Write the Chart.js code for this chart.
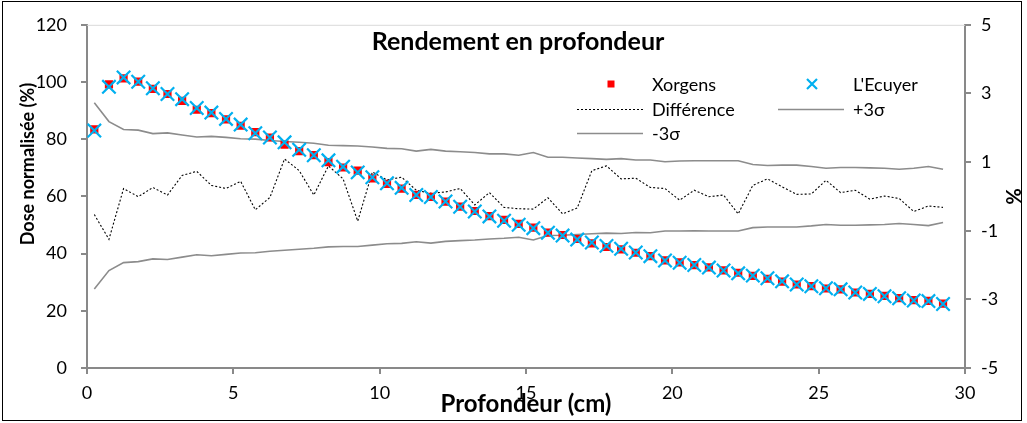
<!DOCTYPE html>
<html>
<head>
<meta charset="utf-8">
<title>Rendement en profondeur</title>
<script src="https://cdn.jsdelivr.net/npm/chart.js@4/dist/chart.umd.min.js"></script>
<style>
  html, body { margin: 0; padding: 0; background: #fff; }
</style>
</head>
<body>
<canvas id="doseChart" width="1027" height="423"></canvas>
<script>
// profondeur (cm)
const depth = [0.25, 0.75, 1.25, 1.75, 2.25, 2.75, 3.25, 3.75, 4.25, 4.75,
  5.25, 5.75, 6.25, 6.75, 7.25, 7.75, 8.25, 8.75, 9.25, 9.75,
  10.25, 10.75, 11.25, 11.75, 12.25, 12.75, 13.25, 13.75, 14.25, 14.75,
  15.25, 15.75, 16.25, 16.75, 17.25, 17.75, 18.25, 18.75, 19.25, 19.75,
  20.25, 20.75, 21.25, 21.75, 22.25, 22.75, 23.25, 23.75, 24.25, 24.75,
  25.25, 25.75, 26.25, 26.75, 27.25, 27.75, 28.25, 28.75, 29.25];

// dose normalisee (%)
const xorgens = [83.4, 99.2, 101.3, 100.1, 97.6, 95.8, 93.4, 90.3, 89.1, 86.9,
  84.7, 82.5, 80.6, 78.1, 75.8, 74.4, 72.0, 70.1, 69.0, 66.3,
  64.4, 62.7, 60.5, 59.8, 58.2, 56.4, 54.9, 53.1, 51.8, 50.4,
  49.1, 47.3, 46.5, 45.1, 43.6, 42.3, 41.5, 40.3, 39.1, 37.6,
  36.9, 36.0, 35.2, 34.1, 33.3, 32.2, 31.2, 30.2, 29.2, 28.6,
  27.8, 27.5, 26.4, 25.9, 25.2, 24.4, 23.7, 23.5, 22.5];
const lecuyer = [83.0, 98.3, 101.6, 100.1, 97.8, 95.8, 94.0, 90.9, 89.3, 87.1,
  85.1, 82.1, 80.6, 78.9, 76.3, 74.4, 72.6, 70.4, 68.4, 66.7,
  64.6, 63.0, 60.5, 59.8, 58.2, 56.4, 54.7, 53.0, 51.5, 50.1,
  48.9, 47.3, 46.3, 44.9, 43.9, 42.7, 41.7, 40.4, 39.1, 37.6,
  36.8, 36.0, 35.1, 34.1, 33.1, 32.3, 31.4, 30.3, 29.2, 28.6,
  27.9, 27.5, 26.4, 25.9, 25.1, 24.4, 23.6, 23.4, 22.4];

// axe secondaire (%)
const difference = [-0.53, -1.25, 0.23, -0.01, 0.26, 0.04, 0.61, 0.73, 0.32, 0.23,
  0.44, -0.39, -0.03, 1.09, 0.75, 0.04, 0.89, 0.51, -0.72, 0.71,
  0.48, 0.56, 0.18, 0.09, 0.13, 0.23, -0.25, 0.11, -0.32, -0.36,
  -0.37, -0.04, -0.51, -0.34, 0.75, 0.89, 0.51, 0.53, 0.26, 0.23,
  -0.11, 0.18, -0.01, 0.04, -0.51, 0.32, 0.51, 0.28, 0.06, 0.07,
  0.47, 0.11, 0.18, -0.08, 0.01, -0.06, -0.44, -0.28, -0.32];
const plus3s = [2.73, 2.18, 1.95, 1.93, 1.83, 1.85, 1.79, 1.73, 1.75, 1.72,
  1.68, 1.67, 1.63, 1.60, 1.58, 1.55, 1.49, 1.48, 1.47, 1.44,
  1.40, 1.39, 1.32, 1.37, 1.32, 1.30, 1.28, 1.24, 1.24, 1.20,
  1.28, 1.14, 1.14, 1.12, 1.10, 1.08, 1.10, 1.06, 1.06, 1.01,
  1.03, 1.04, 1.04, 1.04, 1.04, 0.93, 0.90, 0.91, 0.91, 0.87,
  0.82, 0.84, 0.84, 0.83, 0.82, 0.79, 0.82, 0.87, 0.79];
const minus3s = [-2.70, -2.16, -1.93, -1.90, -1.82, -1.84, -1.77, -1.70, -1.73, -1.69,
  -1.65, -1.64, -1.60, -1.57, -1.54, -1.51, -1.47, -1.46, -1.46, -1.42,
  -1.38, -1.37, -1.32, -1.36, -1.31, -1.29, -1.27, -1.24, -1.22, -1.19,
  -1.27, -1.14, -1.13, -1.11, -1.09, -1.07, -1.08, -1.05, -1.06, -1.01,
  -1.01, -1.00, -1.01, -1.01, -1.01, -0.91, -0.89, -0.89, -0.89, -0.86,
  -0.82, -0.84, -0.84, -0.83, -0.82, -0.79, -0.82, -0.85, -0.76];

const FONT = 'Lato, "Open Sans", sans-serif';
const AXIS_GREY = '#898989';
const LINE_GREY = '#8c8c8c';

function points(values) {
  return depth.map((d, i) => ({ x: d, y: values[i] }));
}

const decor = {
  id: 'decor',
  afterDraw(chart) {
    const ctx = chart.ctx;
    const area = chart.chartArea;
    ctx.save();
    // bord superieur de la zone de tracé
    ctx.strokeStyle = '#d9d9d9';
    ctx.lineWidth = 1;
    ctx.beginPath();
    ctx.moveTo(area.left, area.top + 0.5);
    ctx.lineTo(area.right, area.top + 0.5);
    ctx.stroke();
    // cadre
    ctx.strokeStyle = '#000';
    ctx.strokeRect(2.5, 1.5, 1019, 419);

    // titre
    ctx.fillStyle = '#000';
    ctx.font = 'bold 25px ' + FONT;
    ctx.textAlign = 'center';
    ctx.textBaseline = 'middle';
    ctx.fillText('Rendement en profondeur', 518, 42);

    // titre axe vertical gauche
    ctx.save();
    ctx.translate(28, 164);
    ctx.rotate(-Math.PI / 2);
    ctx.font = 'bold 18px ' + FONT;
    ctx.fillText('Dose normalisée (%)', 0, 0);
    ctx.restore();

    // légende
    const ds = chart.data.datasets;
    ctx.font = '18px ' + FONT;
    ctx.textAlign = 'left';
    const items = [
      { ds: ds[1], x: 611, y: 84, text: 'Xorgens', kind: 'point' },
      { ds: ds[0], x: 812, y: 84, text: "L'Ecuyer", kind: 'point' },
      { ds: ds[2], x: 610, y: 109, text: 'Différence', kind: 'line' },
      { ds: ds[3], x: 811, y: 109, text: '+3σ', kind: 'line' },
      { ds: ds[4], x: 610, y: 133, text: '-3σ', kind: 'line' }
    ];
    items.forEach(it => {
      if (it.kind === 'point') {
        ctx.fillStyle = it.ds.backgroundColor;
        ctx.strokeStyle = it.ds.borderColor;
        ctx.lineWidth = it.ds.borderWidth;
        ctx.beginPath();
        if (it.ds.pointStyle === 'rect') {
          ctx.fillRect(it.x - 3.5, it.y - 3.5, 7, 7);
        } else {
          ctx.moveTo(it.x - 5, it.y - 5); ctx.lineTo(it.x + 5, it.y + 5);
          ctx.moveTo(it.x + 5, it.y - 5); ctx.lineTo(it.x - 5, it.y + 5);
          ctx.stroke();
        }
      } else {
        ctx.strokeStyle = it.ds.borderColor;
        ctx.lineWidth = it.ds.borderWidth;
        ctx.setLineDash(it.ds.borderDash || []);
        ctx.beginPath();
        ctx.moveTo(it.x - 33, it.y + 0.5);
        ctx.lineTo(it.x + 33, it.y + 0.5);
        ctx.stroke();
        ctx.setLineDash([]);
      }
      ctx.fillStyle = '#000';
      ctx.fillText(it.text, it.kind === 'point' ? it.x + 41 : it.x + 42, it.y + 1);
    });
    ctx.restore();
  }
};

new Chart(document.getElementById('doseChart'), {
  type: 'scatter',
  data: {
    datasets: [
      {
        label: "L'Ecuyer",
        data: points(lecuyer),
        yAxisID: 'y',
        pointStyle: 'crossRot',
        pointRadius: 9.5,
        borderColor: '#00b0f0',
        backgroundColor: '#00b0f0',
        borderWidth: 2.2,
        order: 0
      },
      {
        label: 'Xorgens',
        data: points(xorgens),
        yAxisID: 'y',
        pointStyle: 'rect',
        pointRadius: 5.8,
        borderColor: '#ff0000',
        backgroundColor: '#ff0000',
        borderWidth: 0,
        order: 1
      },
      {
        label: 'Différence',
        data: points(difference),
        yAxisID: 'y2',
        showLine: true,
        pointRadius: 0,
        borderColor: '#000',
        borderWidth: 1.1,
        borderDash: [2, 2],
        order: 2
      },
      {
        label: '+3σ',
        data: points(plus3s),
        yAxisID: 'y2',
        showLine: true,
        pointRadius: 0,
        borderColor: LINE_GREY,
        borderWidth: 1.6,
        order: 2
      },
      {
        label: '-3σ',
        data: points(minus3s),
        yAxisID: 'y2',
        showLine: true,
        pointRadius: 0,
        borderColor: LINE_GREY,
        borderWidth: 1.6,
        order: 2
      }
    ]
  },
  options: {
    responsive: false,
    animation: false,
    devicePixelRatio: 1,
    layout: { padding: { top: 20, left: 0, right: 0, bottom: 0 } },
    plugins: {
      legend: { display: false },
      tooltip: { enabled: false },
      title: { display: false }
    },
    scales: {
      x: {
        type: 'linear',
        min: 0,
        max: 30,
        ticks: { stepSize: 5, color: '#000', font: { family: FONT, size: 18 }, padding: 8 },
        grid: { drawOnChartArea: false, color: AXIS_GREY, lineWidth: 2, tickLength: 6 },
        border: { color: AXIS_GREY, width: 2 },
        title: {
          display: true,
          text: 'Profondeur (cm)',
          color: '#000',
          font: { family: FONT, size: 24, weight: 'bold' },
          padding: { top: 0, bottom: 4 }
        },
        afterFit(scale) { scale.height = 55; }
      },
      y: {
        position: 'left',
        min: 0,
        max: 120,
        ticks: { stepSize: 20, color: '#000', font: { family: FONT, size: 18 }, padding: 14 },
        grid: { drawOnChartArea: false, color: AXIS_GREY, lineWidth: 2, tickLength: 6 },
        border: { color: AXIS_GREY, width: 2 },
        afterFit(scale) { scale.width = 87; }
      },
      y2: {
        position: 'right',
        min: -5,
        max: 5,
        ticks: { stepSize: 2, color: '#000', font: { family: FONT, size: 18 }, padding: 10 },
        grid: { drawOnChartArea: false, color: AXIS_GREY, lineWidth: 2, tickLength: 6 },
        border: { color: AXIS_GREY, width: 2 },
        title: {
          display: true,
          text: '%',
          color: '#000',
          font: { family: FONT, size: 20, weight: 'bold' },
          padding: { top: 3, bottom: 0 }
        },
        afterFit(scale) { scale.width = 62; }
      }
    }
  },
  plugins: [decor]
});
</script>
</body>
</html>
